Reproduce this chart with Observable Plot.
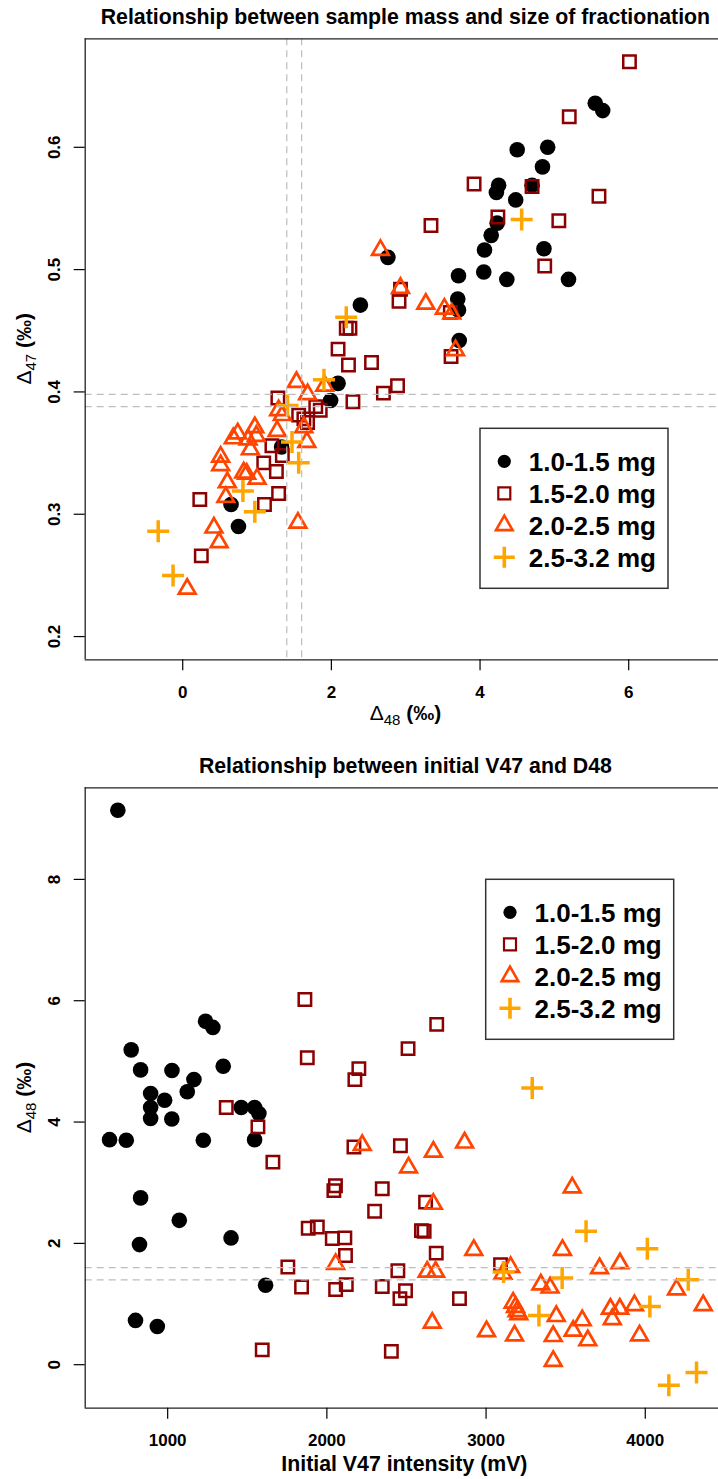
<!DOCTYPE html>
<html>
<head>
<meta charset="utf-8">
<script src="https://cdn.jsdelivr.net/npm/d3@7"></script>
<script src="https://cdn.jsdelivr.net/npm/@observablehq/plot@0.6"></script>
<style>
  html, body { margin: 0; padding: 0; background: white; overflow: hidden; }
  #chart svg { display: block; }
</style>
</head>
<body>
<div id="chart"></div>
<script>
// ---------- categories & styles ----------
const groups = ["1.0-1.5 mg", "1.5-2.0 mg", "2.0-2.5 mg", "2.5-3.2 mg"];
const groupColors = ["black", "#8B0000", "#FF4500", "#FFA500"];

// ---------- panel 1: Δ48 (x) vs Δ47 (y) ----------
const top_g1 = [[5.55,0.636],[5.65,0.630],[4.50,0.598],[4.91,0.600],[4.84,0.584],[4.25,0.569],[4.22,0.563],[4.70,0.569],[4.48,0.557],[4.23,0.538],[4.15,0.528],[4.06,0.516],[4.86,0.517],[2.76,0.510],[4.05,0.498],[3.71,0.495],[4.36,0.492],[5.19,0.492],[3.70,0.476],[3.71,0.467],[2.39,0.471],[3.72,0.442],[2.09,0.407],[1.99,0.393],[1.33,0.355],[0.65,0.308],[0.75,0.290]];
const top_g2 = [[6.01,0.670],[5.20,0.625],[3.92,0.570],[4.70,0.568],[5.60,0.560],[4.24,0.543],[5.06,0.540],[3.34,0.536],[4.87,0.503],[2.93,0.484],[2.91,0.474],[3.60,0.465],[2.20,0.452],[2.25,0.452],[2.09,0.435],[2.23,0.422],[2.54,0.424],[3.61,0.429],[2.70,0.399],[2.89,0.405],[2.29,0.392],[1.28,0.395],[1.56,0.381],[1.63,0.378],[1.68,0.375],[1.79,0.388],[1.85,0.385],[1.20,0.356],[1.34,0.348],[1.09,0.342],[1.26,0.335],[1.29,0.317],[1.10,0.308],[0.23,0.312],[0.25,0.266]];
const top_g3 = [[2.66,0.516],[2.93,0.485],[3.27,0.472],[3.52,0.468],[3.62,0.464],[3.67,0.434],[1.53,0.408],[1.91,0.405],[1.68,0.398],[1.29,0.385],[1.34,0.381],[1.27,0.368],[1.63,0.371],[1.67,0.359],[0.74,0.366],[0.97,0.371],[0.99,0.364],[0.88,0.361],[0.68,0.362],[0.91,0.353],[0.51,0.347],[0.51,0.340],[0.82,0.334],[1.00,0.329],[0.86,0.333],[0.60,0.326],[0.58,0.314],[0.42,0.289],[0.49,0.277],[0.06,0.239],[1.55,0.293]];
const top_g4 = [[4.56,0.541],[2.20,0.461],[1.90,0.410],[1.41,0.389],[1.47,0.359],[1.56,0.342],[0.81,0.319],[0.97,0.302],[-0.33,0.286],[-0.13,0.250]];
const topXTicks = [0, 2, 4, 6];
const topYTicks = [0.2, 0.3, 0.4, 0.5, 0.6];
const topXDomain = [-1.312, 7.208];
const topYDomain = [0.181, 0.6887];
const topRefX = [1.4, 1.6];      // Δ48 reference band
const topRefY = [0.388, 0.398];  // Δ47 reference band

// ---------- panel 2: initial V47 (x) vs Δ48 (y) ----------
const bot_g1 = [[687,9.14],[1238,5.66],[1284,5.56],[771,5.19],[830,4.86],[1027,4.85],[1165,4.70],[1349,4.92],[893,4.47],[893,4.24],[893,4.06],[981,4.36],[1026,4.05],[1123,4.50],[1462,4.24],[1546,4.24],[1573,4.14],[1546,3.71],[1224,3.70],[635,3.71],[740,3.70],[830,2.75],[1073,2.38],[1398,2.09],[823,1.98],[1615,1.31],[798,0.73],[935,0.63]];
const bot_g2 = [[1862,6.02],[1877,5.06],[2201,4.88],[2176,4.70],[2510,5.21],[2690,5.61],[1368,4.24],[1567,3.92],[1661,3.34],[2170,3.59],[2462,3.61],[2054,2.95],[2044,2.87],[2348,2.90],[2300,2.53],[1883,2.25],[1940,2.27],[2034,2.08],[2113,2.09],[2117,1.80],[1755,1.61],[1841,1.28],[2055,1.24],[2122,1.32],[2348,1.29],[2446,1.55],[2459,1.09],[2494,1.22],[1594,0.245],[2405,0.22],[2620,2.68],[2594,2.21],[2611,2.20],[2687,1.84],[3091,1.65],[2833,1.09]];
const bot_g3 = [[2222,3.62],[2055,1.66],[2513,3.25],[2669,3.51],[2865,3.66],[3541,2.92],[2669,2.65],[2923,1.89],[3480,1.89],[3713,1.59],[3841,1.67],[2630,1.53],[2683,1.53],[3154,1.61],[3106,1.50],[3344,1.32],[3402,1.27],[4196,1.24],[4364,0.98],[3170,1.02],[3185,0.95],[3195,0.88],[3205,0.83],[3441,0.80],[3604,0.73],[3547,0.56],[3639,0.40],[3781,0.92],[3840,0.92],[3932,0.98],[3793,0.75],[3964,0.48],[2662,0.69],[3003,0.55],[3179,0.48],[3422,0.47],[3422,0.06]];
const bot_g4 = [[3290,4.56],[3628,2.20],[4013,1.91],[3478,1.43],[3110,1.53],[4270,1.40],[3332,0.81],[4029,0.96],[4322,-0.13],[4148,-0.34]];
const botXTicks = [1000, 2000, 3000, 4000];
const botYTicks = [0, 2, 4, 6, 8];
const botXDomain = [482, 4460];
const botYDomain = [-0.717, 9.51];
const botRefY = [1.4, 1.6];

// ---------- helpers ----------
const FONT = "Liberation Sans, Arial, Helvetica, sans-serif";
const rows = pairs => pairs.map(([x, y]) => ({x, y}));
const plusSymbol = {
  draw(ctx, size) {
    const r = Math.sqrt(size / Math.PI);
    ctx.moveTo(-r, 0); ctx.lineTo(r, 0);
    ctx.moveTo(0, -r); ctx.lineTo(0, r);
  }
};
function pointMarks(g1, g2, g3, g4) {
  return [
    Plot.dot(rows(g1), {x: "x", y: "y", r: 7.8, fill: groupColors[0], stroke: "none"}),
    Plot.dot(rows(g2), {x: "x", y: "y", symbol: "square", r: 7, fill: "none", stroke: groupColors[1], strokeWidth: 2.5}),
    Plot.dot(rows(g3), {x: "x", y: "y", symbol: "triangle", r: 6.2, fill: "none", stroke: groupColors[2], strokeWidth: 2.7, strokeLinejoin: "miter"}),
    Plot.dot(rows(g4), {x: "x", y: "y", symbol: plusSymbol, r: 11, fill: "none", stroke: groupColors[3], strokeWidth: 3.5})
  ];
}
const dashStyle = {stroke: "#bdbdbd", strokeWidth: 1.2, strokeDasharray: "7,5"};
const frameStyle = {stroke: "#222", strokeWidth: 1.3};
const axisText = {fontSize: 17, fontWeight: "bold", strokeWidth: 1.2};

function addLegend(svg, left, top) {
  const g = d3.select(svg).append("g").attr("font-family", FONT).attr("text-anchor", "start");
  g.append("rect").attr("x", left).attr("y", top).attr("width", 188).attr("height", 160)
    .attr("fill", "white").attr("stroke", "#333").attr("stroke-width", 1.5);
  groups.forEach((name, i) => {
    const cx = left + 24.3, cy = top + 33 + i * 32;
    const s = g.append("g").attr("transform", `translate(${cx},${cy})`);
    if (i === 0) s.append("circle").attr("r", 6.6).attr("fill", groupColors[0]);
    if (i === 1) s.append("path").attr("d", d3.symbol(d3.symbolSquare, 144)()).attr("fill", "none").attr("stroke", groupColors[1]).attr("stroke-width", 2.2);
    if (i === 2) s.append("path").attr("d", d3.symbol(d3.symbolTriangle, 120)()).attr("fill", "none").attr("stroke", groupColors[2]).attr("stroke-width", 2.6);
    if (i === 3) s.append("path").attr("d", "M-10.5,0H10.5M0,-10.5V10.5").attr("fill", "none").attr("stroke", groupColors[3]).attr("stroke-width", 3.6);
    g.append("text").attr("x", left + 48.8).attr("y", cy).attr("dy", "0.36em").attr("text-anchor", "start")
      .attr("font-size", 26).attr("font-weight", "bold").attr("fill", "black").text(name);
  });
}
function addDeltaLabel(sel, sub, attrs) {
  const t = sel.append("text").attr("font-family", FONT).attr("fill", "black").attr("text-anchor", "middle");
  for (const k in attrs) t.attr(k, attrs[k]);
  t.append("tspan").attr("font-size", 21).text("Δ");
  t.append("tspan").attr("font-size", 15).attr("dy", 5).text(sub);
  t.append("tspan").attr("font-size", 21).attr("font-weight", "bold").attr("dy", -5).text("\u00a0(‰)");
  return t;
}
function addText(sel, str, x, y) {
  return sel.append("text").attr("x", x).attr("y", y).attr("text-anchor", "middle")
    .attr("font-family", FONT).attr("font-size", 21.3).attr("font-weight", "bold").attr("fill", "black")
    .text(str);
}

// ---------- panel 1 ----------
const p1 = Plot.plot({
  width: 718, height: 740,
  marginLeft: 84.7, marginRight: 0, marginTop: 38.3, marginBottom: 80.7,
  style: {fontFamily: FONT, background: "white", color: "black"},
  x: {domain: topXDomain, label: null},
  y: {domain: topYDomain, label: null},
  marks: [
    ...pointMarks(top_g1, top_g2, top_g3, top_g4),
    Plot.ruleX(topRefX, dashStyle),
    Plot.ruleY(topRefY, dashStyle),
    Plot.ruleY(topYDomain, frameStyle),
    Plot.ruleX([topXDomain[0]], frameStyle),
    Plot.axisX({ticks: topXTicks, tickSize: 11, tickPadding: 15, label: null, ...axisText}),
    Plot.axisY({ticks: topYTicks, tickSize: 11, tickPadding: 14, tickRotate: -90, tickFormat: d3.format(".1f"), label: null, ...axisText})
  ]
});
{
  const s = d3.select(p1);
  addText(s, "Relationship between sample mass and size of fractionation", 405.4, 24);
  addDeltaLabel(s, "48", {x: 405.4, y: 720});
  addDeltaLabel(s, "47", {transform: "translate(31,348.8) rotate(-90)"});
  addLegend(p1, 480, 428.3);
}

// ---------- panel 2 ----------
const p2 = Plot.plot({
  width: 718, height: 739,
  marginLeft: 84.7, marginRight: 0, marginTop: 47.3, marginBottom: 71.3,
  style: {fontFamily: FONT, background: "white", color: "black"},
  x: {domain: botXDomain, label: null},
  y: {domain: botYDomain, label: null},
  marks: [
    ...pointMarks(bot_g1, bot_g2, bot_g3, bot_g4),
    Plot.ruleY(botRefY, dashStyle),
    Plot.ruleY(botYDomain, frameStyle),
    Plot.ruleX([botXDomain[0]], frameStyle),
    Plot.axisX({ticks: botXTicks, tickSize: 11, tickPadding: 15, tickFormat: d => String(d), label: null, ...axisText}),
    Plot.axisY({ticks: botYTicks, tickSize: 11, tickPadding: 14, tickRotate: -90, label: null, ...axisText})
  ]
});
{
  const s = d3.select(p2);
  addText(s, "Relationship between initial V47 and D48", 405.4, 32.7);
  addText(s, "Initial V47 intensity (mV)", 404.4, 730.6);
  addDeltaLabel(s, "48", {transform: "translate(31,357.5) rotate(-90)"});
  addLegend(p2, 485.7, 139.3);
}

const chart = document.getElementById("chart");
chart.appendChild(p1);
chart.appendChild(p2);
</script>
</body>
</html>
